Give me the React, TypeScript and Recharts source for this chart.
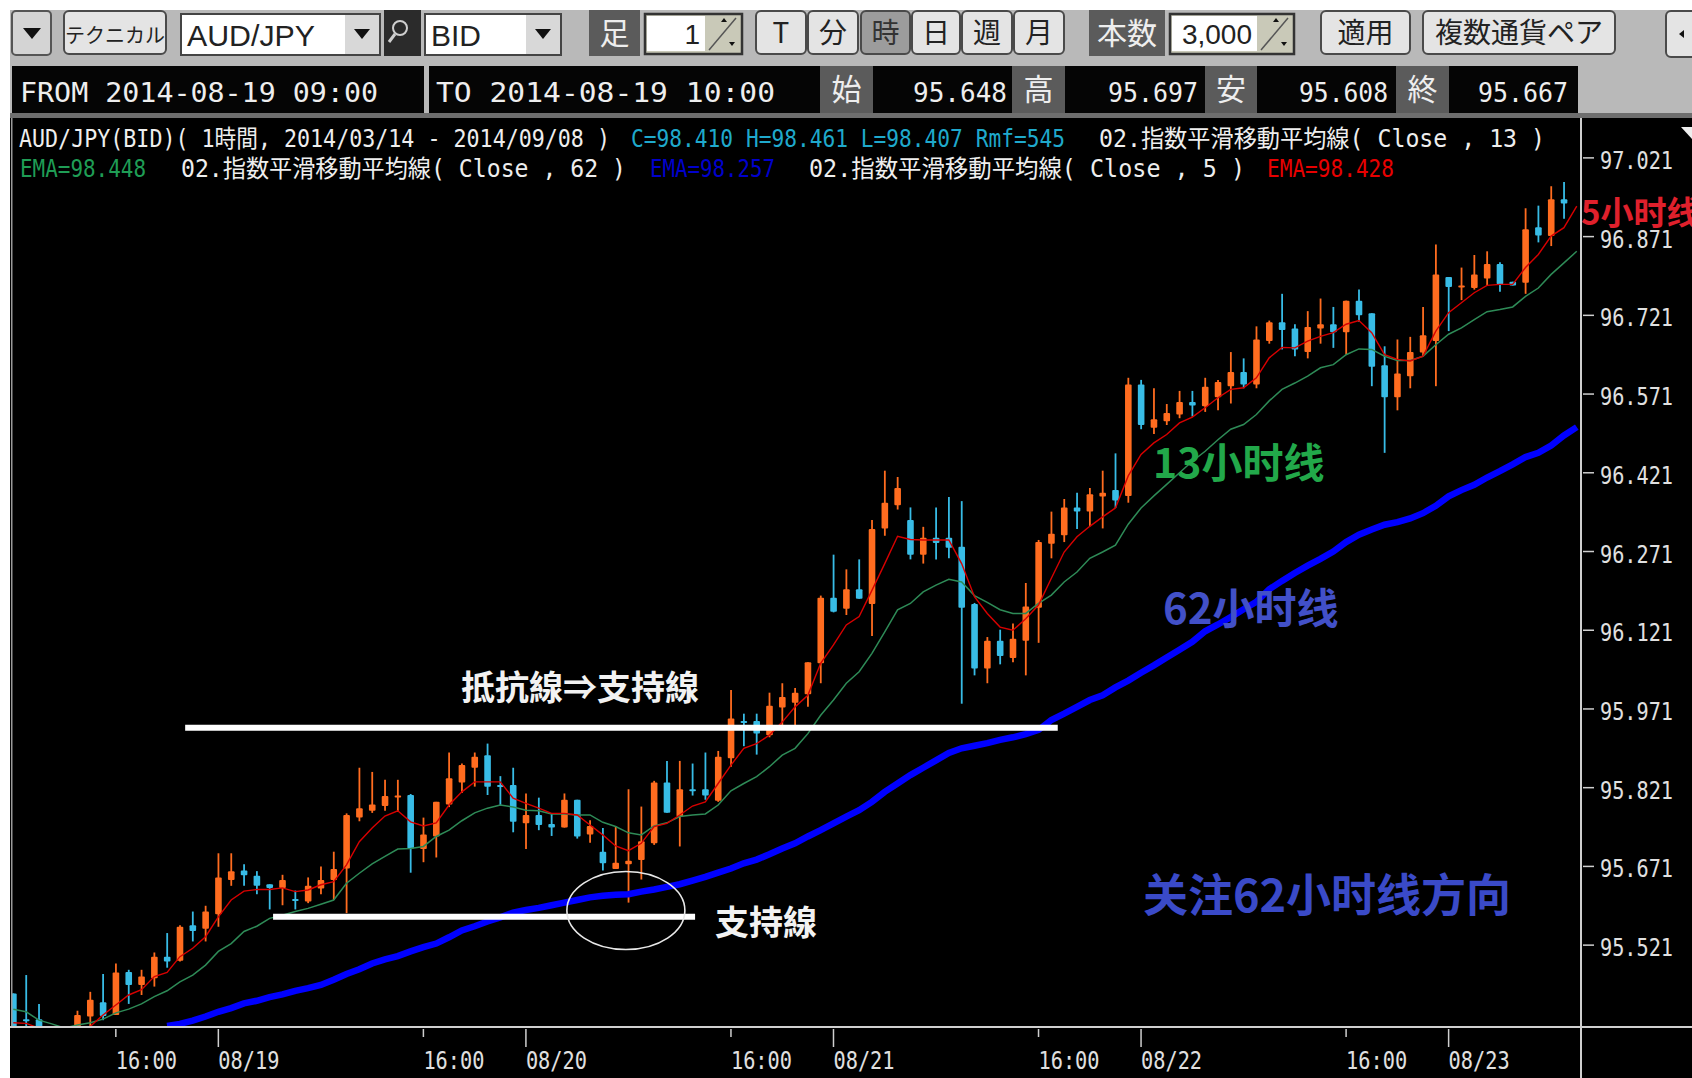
/**
 * AUD/JPY hourly candlestick chart with three EMA lines,
 * shown inside the trading terminal frame.
 */

import {
  Bar,
  ComposedChart,
  Line,
  ReferenceDot,
  ReferenceLine,
  XAxis,
  YAxis,
} from "recharts";

// ============================================
// Data
// ============================================

const opens = [
  95.429, 95.38, 95.38, 95.345, 95.34, 95.359, 95.385, 95.412, 95.388, 95.47,
  95.445, 95.458, 95.499, 95.491, 95.559, 95.552, 95.58, 95.645, 95.663, 95.653,
  95.637, 95.63, 95.609, 95.604, 95.629, 95.645, 95.667, 95.764, 95.777, 95.786,
  95.803, 95.807, 95.704, 95.728, 95.789, 95.831, 95.859, 95.883, 95.826, 95.826,
  95.753, 95.769, 95.752, 95.745, 95.798, 95.732, 95.699, 95.666, 95.675, 95.683,
  95.715, 95.831, 95.766, 95.818, 95.818, 95.796, 95.877, 95.948, 95.948, 95.921,
  95.974, 95.983, 95.999, 96.058, 96.183, 96.162, 96.199, 96.171, 96.315, 96.359,
  96.331, 96.265, 96.297, 96.297, 96.28, 96.171, 96.048, 96.101, 96.068, 96.101,
  96.164, 96.286, 96.302, 96.355, 96.347, 96.376, 96.388, 96.377, 96.589, 96.507,
  96.519, 96.532, 96.556, 96.548, 96.565, 96.586, 96.613, 96.589, 96.672, 96.708,
  96.696, 96.651, 96.696, 96.704, 96.689, 96.749, 96.725, 96.626, 96.565, 96.605,
  96.65, 96.672, 96.794, 96.775, 96.773, 96.791, 96.819, 96.785, 96.783, 96.889,
  96.872, 96.942,
];

const closes = [
  95.359, 95.376, 95.363, 95.355, 95.35, 95.388, 95.417, 95.386, 95.469, 95.445,
  95.461, 95.499, 95.49, 95.556, 95.548, 95.585, 95.65, 95.662, 95.654, 95.634,
  95.63, 95.645, 95.605, 95.634, 95.645, 95.666, 95.769, 95.782, 95.789, 95.805,
  95.806, 95.705, 95.732, 95.794, 95.839, 95.864, 95.88, 95.823, 95.823, 95.756,
  95.769, 95.75, 95.745, 95.798, 95.728, 95.748, 95.677, 95.678, 95.682, 95.719,
  95.831, 95.773, 95.818, 95.814, 95.806, 95.88, 95.953, 95.945, 95.924, 95.977,
  95.994, 96.002, 96.06, 96.183, 96.156, 96.199, 96.181, 96.314, 96.364, 96.392,
  96.265, 96.297, 96.287, 96.278, 96.164, 96.048, 96.101, 96.072, 96.105, 96.166,
  96.289, 96.305, 96.355, 96.347, 96.38, 96.383, 96.368, 96.589, 96.512, 96.523,
  96.535, 96.556, 96.549, 96.585, 96.594, 96.613, 96.589, 96.675, 96.708, 96.693,
  96.656, 96.699, 96.704, 96.689, 96.749, 96.721, 96.623, 96.565, 96.61, 96.651,
  96.683, 96.799, 96.775, 96.778, 96.799, 96.819, 96.78, 96.778, 96.885, 96.873,
  96.942, 96.934,
];

const highs = [
  95.429, 95.464, 95.409, 95.36, 95.355, 95.396, 95.432, 95.466, 95.486, 95.474,
  95.474, 95.507, 95.544, 95.559, 95.585, 95.596, 95.696, 95.696, 95.675, 95.662,
  95.637, 95.655, 95.625, 95.65, 95.671, 95.699, 95.772, 95.859, 95.851, 95.836,
  95.836, 95.809, 95.764, 95.794, 95.888, 95.867, 95.888, 95.905, 95.843, 95.859,
  95.81, 95.802, 95.772, 95.81, 95.798, 95.759, 95.744, 95.748, 95.818, 95.785,
  95.834, 95.872, 95.872, 95.867, 95.888, 95.891, 96.007, 95.962, 95.962, 96.002,
  96.02, 96.011, 96.06, 96.187, 96.265, 96.237, 96.256, 96.331, 96.425, 96.413,
  96.355, 96.318, 96.355, 96.375, 96.367, 96.173, 96.108, 96.122, 96.134, 96.211,
  96.293, 96.347, 96.371, 96.383, 96.392, 96.425, 96.458, 96.602, 96.598, 96.582,
  96.552, 96.577, 96.577, 96.602, 96.598, 96.651, 96.639, 96.7, 96.711, 96.762,
  96.704, 96.729, 96.753, 96.737, 96.749, 96.77, 96.725, 96.662, 96.675, 96.68,
  96.737, 96.856, 96.794, 96.812, 96.836, 96.843, 96.822, 96.785, 96.925, 96.93,
  96.967, 96.975,
];

const lows = [
  95.353, 95.363, 95.359, 95.335, 95.33, 95.356, 95.363, 95.378, 95.388, 95.409,
  95.426, 95.442, 95.478, 95.49, 95.528, 95.528, 95.556, 95.634, 95.634, 95.618,
  95.589, 95.597, 95.589, 95.601, 95.618, 95.607, 95.582, 95.757, 95.773, 95.777,
  95.775, 95.659, 95.679, 95.688, 95.784, 95.811, 95.823, 95.807, 95.788, 95.736,
  95.704, 95.74, 95.729, 95.745, 95.724, 95.716, 95.663, 95.666, 95.602, 95.646,
  95.712, 95.773, 95.709, 95.806, 95.798, 95.794, 95.861, 95.9, 95.884, 95.917,
  95.94, 95.94, 95.975, 96.02, 96.155, 96.15, 96.181, 96.11, 96.301, 96.351,
  96.256, 96.248, 96.256, 96.258, 95.981, 96.035, 96.02, 96.056, 96.06, 96.035,
  96.097, 96.258, 96.289, 96.314, 96.319, 96.315, 96.354, 96.364, 96.504, 96.495,
  96.512, 96.525, 96.528, 96.537, 96.54, 96.553, 96.582, 96.582, 96.667, 96.656,
  96.643, 96.639, 96.667, 96.659, 96.646, 96.709, 96.586, 96.459, 96.54, 96.582,
  96.643, 96.586, 96.691, 96.75, 96.77, 96.777, 96.766, 96.778, 96.762, 96.86,
  96.853, 96.905,
];

const ema5 = [
  95.373, 95.372, 95.363, 95.355, 95.35, 95.355, 95.366, 95.388, 95.407, 95.426,
  95.436, 95.461, 95.469, 95.499, 95.515, 95.537, 95.575, 95.607, 95.624, 95.627,
  95.627, 95.63, 95.623, 95.626, 95.636, 95.642, 95.674, 95.718, 95.744, 95.767,
  95.777, 95.756, 95.748, 95.754, 95.788, 95.813, 95.832, 95.832, 95.832, 95.801,
  95.791, 95.782, 95.772, 95.772, 95.769, 95.75, 95.731, 95.71, 95.701, 95.715,
  95.747, 95.753, 95.769, 95.786, 95.794, 95.829, 95.864, 95.896, 95.905, 95.921,
  95.946, 95.975, 95.997, 96.058, 96.093, 96.131, 96.147, 96.197, 96.248, 96.3,
  96.294, 96.293, 96.293, 96.293, 96.248, 96.185, 96.153, 96.127, 96.121, 96.143,
  96.169, 96.22, 96.27, 96.299, 96.319, 96.337, 96.354, 96.415, 96.456, 96.478,
  96.494, 96.516, 96.527, 96.545, 96.564, 96.58, 96.583, 96.602, 96.64, 96.66,
  96.659, 96.672, 96.681, 96.688, 96.704, 96.711, 96.688, 96.646, 96.637, 96.634,
  96.643, 96.691, 96.726, 96.745, 96.764, 96.778, 96.78, 96.78, 96.812, 96.837,
  96.872, 96.888, 96.929,
];

const ema13 = [
  95.399, 95.394, 95.378, 95.371, 95.363, 95.369, 95.373, 95.38, 95.392, 95.399,
  95.409, 95.423, 95.434, 95.451, 95.464, 95.483, 95.509, 95.524, 95.547, 95.557,
  95.572, 95.578, 95.585, 95.591, 95.599, 95.607, 95.639, 95.658, 95.676, 95.69,
  95.704, 95.705, 95.709, 95.728, 95.74, 95.758, 95.773, 95.782, 95.788, 95.784,
  95.778, 95.777, 95.771, 95.771, 95.769, 95.769, 95.755, 95.747, 95.735, 95.731,
  95.748, 95.754, 95.766, 95.769, 95.771, 95.788, 95.815, 95.829, 95.842, 95.861,
  95.883, 95.896, 95.924, 95.959, 95.988, 96.02, 96.042, 96.077, 96.118, 96.16,
  96.172, 96.194, 96.207, 96.218, 96.213, 96.187, 96.174, 96.16, 96.153, 96.153,
  96.172, 96.188, 96.213, 96.232, 96.258, 96.27, 96.283, 96.323, 96.354, 96.377,
  96.399, 96.421, 96.443, 96.462, 96.484, 96.504, 96.513, 96.532, 96.558, 96.58,
  96.592, 96.605, 96.621, 96.627, 96.646, 96.657, 96.656, 96.643, 96.635, 96.635,
  96.643, 96.665, 96.685, 96.697, 96.713, 96.728, 96.732, 96.737, 96.757, 96.773,
  96.799, 96.821, 96.843,
];

const ema62 = [
  null, null, null, null, null, null, null, null, null, null,
  null, null, 95.367, 95.371, 95.377, 95.385, 95.394, 95.401, 95.41, 95.415,
  95.422, 95.427, 95.434, 95.439, 95.445, 95.455, 95.466, 95.475, 95.486, 95.494,
  95.5, 95.509, 95.517, 95.524, 95.536, 95.549, 95.557, 95.566, 95.574, 95.583,
  95.588, 95.592, 95.597, 95.602, 95.607, 95.612, 95.615, 95.617, 95.618, 95.623,
  95.627, 95.632, 95.637, 95.644, 95.651, 95.659, 95.667, 95.677, 95.684, 95.694,
  95.705, 95.715, 95.728, 95.74, 95.753, 95.766, 95.778, 95.794, 95.813, 95.829,
  95.845, 95.859, 95.873, 95.887, 95.896, 95.901, 95.906, 95.912, 95.917, 95.923,
  95.931, 95.95, 95.962, 95.975, 95.988, 95.997, 96.012, 96.025, 96.04, 96.054,
  96.069, 96.084, 96.099, 96.119, 96.132, 96.146, 96.161, 96.175, 96.199, 96.215,
  96.23, 96.244, 96.257, 96.271, 96.289, 96.303, 96.313, 96.322, 96.327, 96.334,
  96.344, 96.358, 96.376, 96.388, 96.398, 96.412, 96.424, 96.437, 96.451, 96.459,
  96.473, 96.492, 96.508,
];

const xTickIndexes = [8, 16, 32, 40, 56, 64, 80, 88, 104, 112];
const xTickLabels = [
  "16:00", "08/19", "16:00", "08/20", "16:00",
  "08/21", "16:00", "08/22", "16:00", "08/23",
];
const yTicks = [95.521, 95.671, 95.821, 95.971, 96.121, 96.271, 96.421, 96.571, 96.721, 96.871, 97.021];

const resistanceLevel = 95.935;
const resistanceSpan = [13.41, 81.5];
const supportLevel = 95.575;
const supportSpan = [20.27, 53.2];
const circledBar = 47.8;
const circledPrice = 95.587;

const chartData = ema5.map((value, i) => ({
  idx: i,
  open: opens[i],
  close: closes[i],
  high: highs[i],
  low: lows[i],
  ema5: value,
  ema13: ema13[i],
  ema62: ema62[i],
}));

// ============================================
// Colors and fonts
// ============================================

const UP = "#ff6c1f";
const DOWN = "#38bce6";
const AXIS = "#cfcfcf";
const MONO = '"DejaVu Sans Mono", "Noto Sans CJK JP", monospace';
const GOTHIC = '"Noto Sans CJK JP", "Liberation Sans", sans-serif';
const BOLD_CN = '"Noto Sans CJK SC", sans-serif';

// ============================================
// Chart marks
// ============================================

function Candle(props: any) {
  const { x, y, width, height, payload } = props;
  if (payload.high == null || !height) return null;
  const perUnit = height / (payload.high - payload.low);
  const center = x + width / 2;
  const color = payload.close >= payload.open ? UP : DOWN;
  const top = y + (payload.high - Math.max(payload.open, payload.close)) * perUnit;
  const bottom = y + (payload.high - Math.min(payload.open, payload.close)) * perUnit;
  return (
    <g>
      <line x1={center} x2={center} y1={y} y2={y + height} stroke={color} strokeWidth={1.8} />
      <rect x={center - 3.3} y={top} width={6.6} height={Math.max(bottom - top, 2)} rx={1} fill={color} />
    </g>
  );
}

function TimeTick({ x, y, payload }: any) {
  const i = xTickIndexes.indexOf(payload.value);
  const label = xTickLabels[i];
  const isDate = label.includes("/");
  return (
    <g>
      <line x1={x} x2={x} y1={y} y2={y + (isDate ? 18 : 8)} stroke={AXIS} strokeWidth={1.5} />
      <text
        x={x}
        y={y + 40}
        fill="#e0e0e0"
        fontFamily={MONO}
        fontSize={24}
        textLength={61}
        lengthAdjust="spacingAndGlyphs"
      >
        {label}
      </text>
    </g>
  );
}

function PriceTick({ x, y, payload }: any) {
  return (
    <g>
      <line x1={x} x2={x + 11} y1={y} y2={y} stroke={AXIS} strokeWidth={1.5} />
      <text
        x={x + 17}
        y={y + 11}
        fill="#e0e0e0"
        fontFamily={MONO}
        fontSize={25}
        textLength={73}
        lengthAdjust="spacingAndGlyphs"
      >
        {payload.value.toFixed(3)}
      </text>
    </g>
  );
}

function CircleMark({ cx, cy }: any) {
  return <ellipse cx={cx} cy={cy} rx={59} ry={39} fill="none" stroke="#e8e8e8" strokeWidth={1.6} />;
}

// ============================================
// Terminal frame
// ============================================

function Squeezed({ x, y, w, size = 24, color = "#eee", font = MONO, children }: any) {
  return (
    <text
      x={x}
      y={y}
      fill={color}
      fontFamily={font}
      fontSize={size}
      textLength={w}
      lengthAdjust="spacingAndGlyphs"
    >
      {children}
    </text>
  );
}

function Btn({ x, w, label, active, size = 28 }: any) {
  return (
    <g>
      <rect
        x={x}
        y={11}
        width={w}
        height={43}
        rx={5}
        fill={active ? "#9c9c9c" : "#e4e4e4"}
        stroke="#4a4a4a"
        strokeWidth={2}
      />
      <text
        x={x + w / 2}
        y={43}
        textAnchor="middle"
        fill={active ? "#333" : "#222"}
        fontFamily={GOTHIC}
        fontSize={size}
      >
        {label}
      </text>
    </g>
  );
}

function Combo({ x, w, boxW, label }: any) {
  return (
    <g>
      <rect x={x} y={14} width={w} height={41} fill="#d8d8d8" stroke="#444" strokeWidth={2} />
      <rect x={x + 1} y={15} width={boxW} height={39} fill="#fff" />
      <path d={`M${x + boxW + 10} 29 h16 l-8 10 z`} fill="#111" />
      <Squeezed x={x + 6} y={46} w={label === "BID" ? 50 : 128} size={29} color="#222" font='"Liberation Sans", sans-serif'>
        {label}
      </Squeezed>
    </g>
  );
}

function Spin({ x, w, boxW, label }: any) {
  return (
    <g>
      <rect x={x} y={14} width={w} height={40} fill="#c9c9b8" stroke="#333" strokeWidth={2.5} />
      <rect x={x + 2} y={16} width={boxW} height={35} fill="#fff" />
      <line x1={x + boxW + 6} y1={50} x2={x + w - 6} y2={18} stroke="#555" strokeWidth={1.5} />
      <path d={`M${x + boxW + 18} 22 l3 -4 l3 4 z M${x + w - 13} 42 l3 4 l3 -4 z`} fill="#111" />
      <text x={x + boxW - 3} y={44} textAnchor="end" fill="#222" fontFamily='"Liberation Sans", sans-serif' fontSize={28}>
        {label}
      </text>
    </g>
  );
}

function DarkLabel({ x, w, y, h, label, size = 30 }: any) {
  return (
    <g>
      <rect x={x} y={y} width={w} height={h} fill="#5b5b5b" />
      <text x={x + w / 2} y={y + h / 2 + size * 0.36} textAnchor="middle" fill="#eee" fontFamily={GOTHIC} fontSize={size}>
        {label}
      </text>
    </g>
  );
}

function Frame() {
  return (
    <svg
      width={1692}
      height={1078}
      style={{ position: "absolute", left: 0, top: 0, pointerEvents: "none" }}
    >
      {/* toolbar background */}
      <rect x={10} y={10} width={1682} height={108} fill="#b9b9b9" />
      <rect x={10} y={113} width={1682} height={5} fill="#6e6e6e" />

      {/* first row */}
      <rect x={12} y={11} width={39} height={44} rx={4} fill="#d4d4d4" stroke="#555" strokeWidth={2} />
      <path d="M23 28 h18 l-9 11 z" fill="#111" />
      <Btn x={64} w={102} label="テクニカル" size={20} />
      <Combo x={181} w={199} boxW={163} label="AUD/JPY" />
      <rect x={384} y={10} width={37} height={46} fill="#2b2b2b" />
      <circle cx={400} cy={28} r={7} fill="none" stroke="#cfcfcf" strokeWidth={2} />
      <line x1={395} y1={34} x2={389} y2={42} stroke="#cfcfcf" strokeWidth={3} />
      <Combo x={425} w={136} boxW={100} label="BID" />
      <DarkLabel x={589} w={51} y={10} h={46} label="足" />
      <Spin x={645} w={97} boxW={58} label="1" />
      <Btn x={756} w={50} label="T" />
      <Btn x={808} w={50} label="分" />
      <Btn x={861} w={49} label="時" active />
      <Btn x={912} w={48} label="日" />
      <Btn x={962} w={50} label="週" />
      <Btn x={1014} w={50} label="月" />
      <DarkLabel x={1089} w={76} y={10} h={46} label="本数" />
      <Spin x={1170} w={124} boxW={85} label="3,000" />
      <Btn x={1321} w={89} label="適用" />
      <Btn x={1423} w={192} label="複数通貨ペア" />
      <rect x={1666} y={11} width={30} height={46} rx={5} fill="#e4e4e4" stroke="#4a4a4a" strokeWidth={2} />
      <path d="M1684 30 v8 l-5 -4 z" fill="#111" />

      {/* second row */}
      <rect x={12} y={66} width={412} height={47} fill="#050505" />
      <rect x={429} y={66} width={391} height={47} fill="#050505" />
      <rect x={873} y={66} width={139} height={47} fill="#050505" />
      <rect x={1065} y={66} width={140} height={47} fill="#050505" />
      <rect x={1257} y={66} width={139} height={47} fill="#050505" />
      <rect x={1449} y={66} width={129} height={47} fill="#050505" />
      <Squeezed x={20} y={102} w={358} size={27}>FROM 2014-08-19  09:00</Squeezed>
      <Squeezed x={436} y={102} w={339} size={27}>TO   2014-08-19  10:00</Squeezed>
      <DarkLabel x={820} w={53} y={66} h={47} label="始" />
      <DarkLabel x={1012} w={53} y={66} h={47} label="高" />
      <DarkLabel x={1205} w={52} y={66} h={47} label="安" />
      <DarkLabel x={1396} w={53} y={66} h={47} label="終" />
      <Squeezed x={913} y={102} w={94} size={27}>95.648</Squeezed>
      <Squeezed x={1108} y={102} w={90} size={27}>95.697</Squeezed>
      <Squeezed x={1299} y={102} w={89} size={27}>95.608</Squeezed>
      <Squeezed x={1478} y={102} w={90} size={27}>95.667</Squeezed>

      {/* indicator legend */}
      <Squeezed x={19} y={147} w={591}>AUD/JPY(BID)( 1時間, 2014/03/14 - 2014/09/08 )</Squeezed>
      <Squeezed x={631} y={147} w={434} color="#1fa9cc">C=98.410 H=98.461 L=98.407 Rmf=545</Squeezed>
      <Squeezed x={1099} y={147} w={446}>02.指数平滑移動平均線( Close , 13 )</Squeezed>
      <Squeezed x={20} y={177} w={126} color="#1f9d55">EMA=98.448</Squeezed>
      <Squeezed x={181} y={177} w={445}>02.指数平滑移動平均線( Close , 62 )</Squeezed>
      <Squeezed x={650} y={177} w={125} color="#0000cc">EMA=98.257</Squeezed>
      <Squeezed x={809} y={177} w={436}>02.指数平滑移動平均線( Close , 5 )</Squeezed>
      <Squeezed x={1267} y={177} w={127} color="#e80000">EMA=98.428</Squeezed>

      {/* chart annotations */}
      <text x={461} y={700} fill="#f2f2f2" fontFamily={BOLD_CN} fontWeight={700} fontSize={34}>
        抵抗線⇒支持線
      </text>
      <text x={715} y={935} fill="#f2f2f2" fontFamily={BOLD_CN} fontWeight={700} fontSize={34}>
        支持線
      </text>
      <text x={1153} y={478} fill="#22a84a" fontFamily={BOLD_CN} fontWeight={700} fontSize={41}>
        13小时线
      </text>
      <text x={1163} y={624} fill="#4250c8" fontFamily={BOLD_CN} fontWeight={700} fontSize={42}>
        62小时线
      </text>
      <text x={1143} y={912} fill="#3a4ac8" fontFamily={BOLD_CN} fontWeight={700} fontSize={45}>
        关注62小时线方向
      </text>
      <text x={1581} y={225} fill="#e0202c" fontFamily={BOLD_CN} fontWeight={700} fontSize={33}>
        5小时线
      </text>

      {/* frame lines that run past the plot area */}
      <rect x={1580} y={118} width={2} height={960} fill={AXIS} />
      <rect x={10} y={1026} width={1682} height={2} fill={AXIS} />
      <rect x={11} y={118} width={1.5} height={908} fill="#9a9a9a" />
      <path d="M1681 127 h11 v12 z" fill="#eee" />
    </svg>
  );
}

// ============================================
// App
// ============================================

export default function App() {
  return (
    <div style={{ position: "absolute", left: 0, top: 0, width: 1692, height: 1078, background: "#fff", overflow: "hidden" }}>
      <div style={{ position: "absolute", left: 10, top: 118, width: 1682, height: 960, background: "#000" }} />
      <ComposedChart
        width={1692}
        height={1078}
        data={chartData}
        margin={{ top: 118, right: 0, bottom: 0, left: 11 }}
        style={{ position: "absolute", left: 0, top: 0 }}
      >
        <XAxis
          dataKey="idx"
          type="number"
          domain={[-0.18, 122.33]}
          ticks={xTickIndexes}
          interval={0}
          allowDataOverflow
          height={51}
          axisLine={false}
          tickLine={false}
          tickSize={0}
          tick={<TimeTick />}
        />
        <YAxis
          orientation="right"
          type="number"
          domain={[95.365, 97.097]}
          ticks={yTicks}
          interval={0}
          allowDataOverflow
          width={111}
          axisLine={false}
          tickLine={false}
          tickSize={0}
          tick={<PriceTick />}
        />
        <Bar
          dataKey={(d: any) => (d.high == null ? null : [d.low, d.high])}
          barSize={7}
          shape={<Candle />}
          isAnimationActive={false}
        />
        <Line dataKey="ema62" type="linear" stroke="#0000ff" strokeWidth={6.5} dot={false} connectNulls={false} isAnimationActive={false} />
        <Line dataKey="ema13" type="linear" stroke="#2e8b57" strokeWidth={1.5} dot={false} isAnimationActive={false} />
        <Line dataKey="ema5" type="linear" stroke="#d80000" strokeWidth={1.4} dot={false} isAnimationActive={false} />
        <ReferenceLine
          segment={[
            { x: resistanceSpan[0], y: resistanceLevel },
            { x: resistanceSpan[1], y: resistanceLevel },
          ]}
          stroke="#ffffff"
          strokeWidth={6}
        />
        <ReferenceLine
          segment={[
            { x: supportSpan[0], y: supportLevel },
            { x: supportSpan[1], y: supportLevel },
          ]}
          stroke="#ffffff"
          strokeWidth={6}
        />
        <ReferenceDot x={circledBar} y={circledPrice} r={1} shape={<CircleMark />} />
      </ComposedChart>
      <Frame />
    </div>
  );
}
